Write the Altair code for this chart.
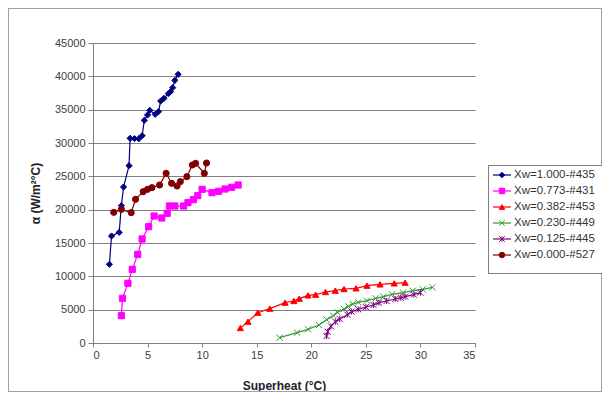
import altair as alt
import pandas as pd

series = ["Xw=1.000-#435", "Xw=0.773-#431", "Xw=0.382-#453",
          "Xw=0.230-#449", "Xw=0.125-#445", "Xw=0.000-#527"]
colors = ["#000080", "#FF00FF", "#FF0000", "#339933", "#800080", "#800000"]
X_PATH = "M-1,-1L1,1M-1,1L1,-1"
STAR_PATH = "M-1,-1L1,1M-1,1L1,-1M0,-1L0,1"
shapes = ["diamond", "square", "triangle-up", X_PATH, STAR_PATH, "circle"]

x_100 = [1.5, 1.7, 2.4, 2.6, 2.8, 3.3, 3.4, 3.8, 4.2, 4.5, 4.7, 5.0, 5.2, 5.7, 6.0, 6.2, 6.5, 6.9, 7.1, 7.3, 7.5, 7.8]
y_100 = [11800, 16050, 16600, 20600, 23400, 26600, 30700, 30650, 30650, 31100, 33400, 34200, 34900, 34300, 34700, 36300, 36700, 37400, 37700, 38300, 39400, 40300]

x_077 = [2.6, 2.7, 3.2, 3.6, 4.1, 4.5, 5.1, 5.6, 6.3, 6.8, 7.0, 7.5, 8.3, 8.7, 9.2, 9.6, 10.0, 10.9, 11.5, 12.1, 12.7, 13.3]
y_077 = [4100, 6700, 8950, 11050, 13300, 15600, 17450, 19050, 18750, 19450, 20550, 20550, 20550, 21050, 21500, 22100, 23050, 22550, 22750, 23100, 23350, 23700]

x_038 = [13.5, 14.2, 15.1, 16.2, 17.6, 18.4, 18.9, 19.7, 20.4, 21.3, 22.2, 23.0, 24.1, 25.1, 26.3, 27.6, 28.6]
y_038 = [2250, 3200, 4550, 5150, 6050, 6300, 6650, 7150, 7250, 7650, 7850, 8100, 8200, 8600, 8800, 8950, 9050]

x_023 = [17.1, 18.7, 19.7, 20.7, 21.4, 22.0, 22.4, 23.0, 23.4, 23.8, 24.3, 25.1, 25.9, 26.6, 27.4, 28.4, 29.3, 30.2, 31.1]
y_023 = [800, 1550, 2050, 2700, 3500, 4100, 4600, 5100, 5500, 5850, 6100, 6350, 6700, 6950, 7300, 7550, 7850, 8050, 8350]

x_012 = [21.4, 21.5, 21.8, 22.2, 22.6, 23.3, 23.7, 24.3, 25.0, 25.7, 26.2, 26.9, 27.7, 28.2, 28.6, 29.4, 30.0]
y_012 = [1050, 1700, 2500, 3200, 3600, 4250, 4700, 5050, 5400, 5700, 6050, 6300, 6600, 6800, 6950, 7250, 7550]

x_000 = [1.9, 2.6, 3.5, 3.9, 4.6, 5.0, 5.4, 6.1, 6.7, 7.2, 7.7, 8.0, 8.6, 9.1, 9.4, 10.2, 10.4]
y_000 = [19600, 20050, 19550, 21550, 22700, 23050, 23300, 23700, 25450, 23950, 23550, 24200, 24950, 26700, 26950, 25450, 27000]

x_ticks = [0, 5, 10, 15, 20, 25, 30, 35]
y_ticks = [0, 5000, 10000, 15000, 20000, 25000, 30000, 35000, 40000, 45000]

xs_all = [x_100, x_077, x_038, x_023, x_012, x_000]
ys_all = [y_100, y_077, y_038, y_023, y_012, y_000]

rows = []
for name, xs, ys in zip(series, xs_all, ys_all):
    for i, (a, b) in enumerate(zip(xs, ys)):
        rows.append({"series": name, "x": a, "y": b, "i": i})
df = pd.DataFrame(rows)
legend_df = pd.DataFrame({"series": series, "row": list(range(len(series)))})

FONT = "Liberation Sans"
W, H = 382, 300
PAD = {"left": 85, "top": 35, "right": 127, "bottom": 49}

color_scale = alt.Scale(domain=series, range=colors)
shape_scale = alt.Scale(domain=series, range=shapes)

x_axis = alt.Axis(values=x_ticks, title="Superheat (°C)", grid=False, tickSize=4,
                  labelPadding=2, titlePadding=20)
y_axis = alt.Axis(values=y_ticks, title="α (W/m²°C)", grid=True, format="d",
                  tickSize=5, labelPadding=3, titlePadding=12)
x_scale = alt.Scale(domain=[0, 35], nice=False, zero=False)
y_scale = alt.Scale(domain=[0, 45000], nice=False)

xe = alt.X("x:Q", scale=x_scale, axis=x_axis)
ye = alt.Y("y:Q", scale=y_scale, axis=y_axis)

frame = alt.Chart(legend_df).mark_rect(filled=False, stroke="#a0a0a0", strokeWidth=1).encode(
    x=alt.value(-84.5), x2=alt.value(W + PAD["right"] - 0.5),
    y=alt.value(-34.5), y2=alt.value(H + PAD["bottom"] - 0.5))

lines = alt.Chart(df).mark_line(strokeWidth=1.2).encode(
    x=xe, y=ye,
    color=alt.Color("series:N", scale=color_scale, legend=None),
    detail="series:N", order="i:Q")

points = alt.Chart(df).mark_point(filled=True, size=38, strokeWidth=1, opacity=1).encode(
    x=xe, y=ye,
    fill=alt.Fill("series:N", scale=color_scale, legend=None),
    stroke=alt.Stroke("series:N", scale=color_scale, legend=None),
    shape=alt.Shape("series:N", scale=shape_scale, legend=None))

# manual legend (rows placed through the y scale)
leg_base = alt.Chart(legend_df).transform_calculate(
    ly="(300 - (132 + 16 * datum.row)) * 150")
ly = alt.Y("ly:Q", scale=y_scale, axis=y_axis)

leg_box = alt.Chart(legend_df).mark_rect(fill="white", stroke="#808080", strokeWidth=1).encode(
    x=alt.value(395.5), x2=alt.value(560), y=alt.value(122.5), y2=alt.value(230.5))
leg_rule = leg_base.mark_rule(strokeWidth=1.2).encode(
    x=alt.value(400), x2=alt.value(418), y=ly,
    color=alt.Color("series:N", scale=color_scale, legend=None))
leg_pt = leg_base.mark_point(filled=True, size=30, strokeWidth=1, opacity=1).encode(
    x=alt.value(409), y=ly,
    fill=alt.Fill("series:N", scale=color_scale, legend=None),
    stroke=alt.Stroke("series:N", scale=color_scale, legend=None),
    shape=alt.Shape("series:N", scale=shape_scale, legend=None))
leg_txt = leg_base.mark_text(align="left", baseline="middle", fontSize=11.5, font=FONT,
                             color="#333333").encode(
    x=alt.value(421), y=ly, text="series:N")

chart = alt.layer(frame, lines, points, leg_box, leg_rule, leg_pt, leg_txt).properties(
    width=W, height=H,
    autosize=alt.AutoSizeParams(type="none"),
    padding=PAD,
    background="white",
).configure_view(stroke=None).configure_axis(
    labelFont=FONT, labelFontSize=11, labelColor="#404040",
    titleFont=FONT, titleFontSize=12, titleFontWeight="bold", titleColor="#222222",
    domainColor="#808080", tickColor="#808080", gridColor="#808080", gridWidth=1,
)

chart.save("out.html", embed_options={"renderer": "svg", "actions": False})
